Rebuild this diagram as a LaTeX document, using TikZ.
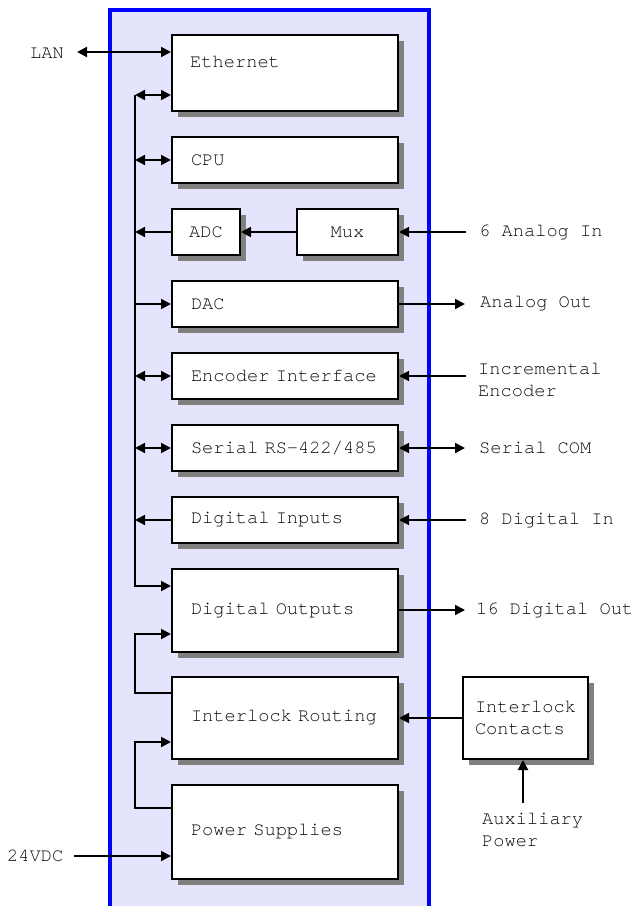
\documentclass[tikz,border=0pt]{standalone}
\usepackage{fontspec}
\setmonofont{TeX Gyre Cursor}[WordSpace={1,0,0}]
\usetikzlibrary{arrows.meta,shadows}
\definecolor{bgfill}{RGB}{228,228,252}
\definecolor{bgblue}{RGB}{0,0,255}
\definecolor{shadowgray}{RGB}{128,128,128}
\definecolor{txt}{RGB}{10,10,10}
\begin{document}
\begin{tikzpicture}[x=1pt,y=-1pt,
  font=\ttfamily\fontsize{18.7}{22.4}\selectfont, text=txt,
  box/.style={draw=black, fill=white, line width=2pt, inner ysep=0pt, inner xsep=0pt,
    drop shadow={shadow xshift=5.5pt, shadow yshift=-5.5pt, opacity=1, fill=shadowgray},
    anchor=north west},
  lbox/.style={box, text width=188pt, inner xsep=19pt, align=left, minimum width=226pt},
  cbox/.style={box, align=center},
  conn/.style={line width=2pt, draw=black},
  tip/.style={-{Triangle[length=10pt,width=10pt]}},
  dtip/.style={{Triangle[length=10pt,width=10pt]}-{Triangle[length=10pt,width=10pt]}},
  lbl/.style={anchor=west, inner sep=0pt, align=left}]

\useasboundingbox (0,0) rectangle (631,906);
\fill[bgfill] (110,10) rectangle (429,912);
\draw[bgblue, line width=3.2pt] (110,912) -- (110,10) -- (429,10) -- (429,912);

% boxes
\node[box, minimum width=226pt, minimum height=76pt] (eth) at (171,34) {};
\node[lbl] (ethtxt) at (190,62) {Ethernet};
\node[lbox, minimum height=46pt] (cpu) at (171,136) {CPU};
\node[cbox, minimum width=68pt, minimum height=46pt] (adc) at (171,208) {ADC};
\node[cbox, minimum width=101pt, minimum height=46pt] (mux) at (296,208) {Mux};
\node[lbox, minimum height=46pt] (dac) at (171,280) {DAC};
\node[lbox, minimum height=46pt] (enc) at (171,352) {Encoder Interface};
\node[lbox, minimum height=46pt] (ser) at (171,424) {Serial RS-422/485};
\node[lbox, minimum height=46pt] (din) at (171,496) {Digital Inputs};
\node[lbox, minimum height=83pt] (dout) at (171,568) {Digital Outputs};
\node[lbox, minimum height=82pt] (ir) at (171,676) {Interlock Routing};
\node[lbox, minimum height=94pt] (ps) at (171,784) {Power Supplies};
\node[cbox, minimum width=125pt, minimum height=82pt, align=left] (ic) at (462,676) {Interlock\\Contacts};

% outside labels
\node[lbl] (lanl) at (30,53) {LAN};
\node[lbl] (vdcl) at (7,856) {24VDC};
\node[lbl] (ainl) at (479,232) {6 Analog In};
\node[lbl] (aoutl) at (480,304) {Analog Out};
\node[lbl] (encl) at (478,380) {Incremental\\Encoder};
\node[lbl] (serl) at (479,448) {Serial COM};
\node[lbl] (dinl) at (479,520) {8 Digital In};
\node[lbl] (doutl) at (476,610) {16 Digital Out};
\node[lbl] (auxl) at (482,830) {Auxiliary\\Power};

% named free ends
\coordinate (bt) at (135,95);
\coordinate (bb) at (135,586);
\coordinate (lan) at (77,52);
\coordinate (vdc) at (74,856);
\coordinate (ain) at (466,232);
\coordinate (aout) at (465,304);
\coordinate (encin) at (466,376);
\coordinate (serc) at (465,448);
\coordinate (dinin) at (466,520);
\coordinate (doutc) at (465,610);
\coordinate (irout) at (135,693);
\coordinate (doin) at (135,634);
\coordinate (psout) at (135,808);
\coordinate (irin) at (135,742);
\coordinate (aux) at (523,803);

% bus
\draw[conn,dtip] (lan) -- (lan -| eth.west);
\draw[conn,dtip] (bt) -- (bt -| eth.west);
\draw[conn,tip] (bt) -- (bb) -- (bb -| dout.west);
\draw[conn,dtip] (cpu.west -| bt) -- (cpu.west);
\draw[conn,tip] (adc.west) -- (adc.west -| bt);
\draw[conn,tip] (mux.west) -- (adc.east);
\draw[conn,tip] (dac.west -| bt) -- (dac.west);
\draw[conn,dtip] (enc.west -| bt) -- (enc.west);
\draw[conn,dtip] (ser.west -| bt) -- (ser.west);
\draw[conn,tip] (din.west) -- (din.west -| bt);
\draw[conn,tip] (irout -| ir.west) -- (irout) -- (doin) -- (doin -| dout.west);
\draw[conn,tip] (psout -| ps.west) -- (psout) -- (irin) -- (irin -| ir.west);
\draw[conn,tip] (vdc) -- (vdc -| ps.west);

% right side
\draw[conn,tip] (ain) -- (mux.east);
\draw[conn,tip] (dac.east) -- (aout);
\draw[conn,tip] (encin) -- (encin -| enc.east);
\draw[conn,dtip] (ser.east) -- (serc);
\draw[conn,tip] (dinin) -- (dinin -| din.east);
\draw[conn,tip] (doutc -| dout.east) -- (doutc);
\draw[conn,tip] (ic.west) -- (ir.east);
\draw[conn,tip] (aux) -- (aux |- ic.south);
\end{tikzpicture}
\end{document}
